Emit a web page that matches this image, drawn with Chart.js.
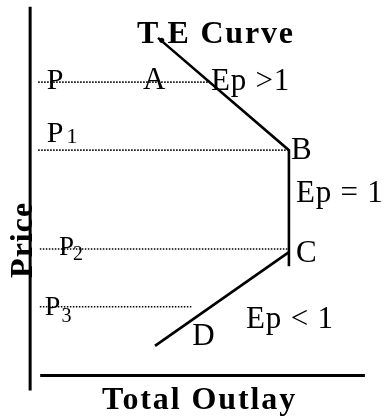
<!DOCTYPE html>
<html>
<head>
<meta charset="utf-8">
<script src="https://cdn.jsdelivr.net/npm/chart.js@4"></script>
<style>
  html, body { margin: 0; padding: 0; background: #fff; }
  canvas { display: block; }
</style>
</head>
<body>
<canvas id="chart" width="385" height="419"></canvas>
<script>
// T.E (total expenditure) curve, outlay on x, price on y
var curveUpperOutlay = [38.2, 77.3, 77.3];
var curveUpperPrice = [100.7, 67.2, 32.6];
var curveLowerOutlay = [77.3, 37.3];
var curveLowerPrice = [36.8, 8.8];

// price levels and how far their dotted guides run
var priceNames = ['P', 'P1', 'P2', 'P3'];
var priceLevels = [87.5, 67.2, 37.7, 20.5];
var guideStart = [2.4, 2.4, 2.9, 2.9];
var guideEnd = [53.6, 77.3, 77.3, 48.6];

// axis extents
var priceAxisRange = [110, -4.5];
var outlayAxisRange = [3, 100];

// text: [text, outlay, price]
var titleText = ['T.E Curve', 31.9, 99.2];
var xTitle = ['Total Outlay', 21.5, -10.0];
var yTitle = ['Price', 0.6, 29.1];
var pointNames = [['A', 33.7, 85.4], ['B', 77.9, 64.6], ['C', 79.4, 33.8], ['D', 48.4, 9.1]];
var elasticity = [['Ep >1', 54.0, 85.2], ['Ep = 1', 79.4, 51.7], ['Ep < 1', 64.5, 14.2]];
// price labels: main letter position, subscript position
var priceLabelPos = [
    [5.0, 85.4, null, null],
    [5.0, 69.6, 10.9, 69.4],
    [8.6, 35.9, 12.8, 34.4],
    [4.4, 18.0, 9.4, 15.9]
];
var priceLabelSize = [30, 30, 27, 28];
var subSize = [0, 22, 20, 20];

var SERIF = "'Liberation Serif', 'Times New Roman', serif";

function xy(xs, ys) {
    return xs.map(function (x, i) { return { x: x, y: ys[i] }; });
}

var datasets = [
    { data: xy([0, 0], priceAxisRange), borderWidth: 3 },
    { data: xy(outlayAxisRange, [0, 0]), borderWidth: 3 },
    { data: xy(curveUpperOutlay, curveUpperPrice), borderWidth: 2.6 },
    { data: xy(curveLowerOutlay, curveLowerPrice), borderWidth: 2.6 }
];
priceLevels.forEach(function (p, i) {
    datasets.push({
        data: xy([guideStart[i], guideEnd[i]], [p, p]),
        borderWidth: 1.6,
        borderDash: [1.5, 1.5]
    });
});
datasets.forEach(function (d) {
    d.showLine = true;
    d.borderColor = '#000';
    d.pointRadius = 0;
    d.fill = false;
});

function drawText(ctx, text, px, py, size, bold, spacing) {
    ctx.font = (bold ? 'bold ' : '') + size + 'px ' + SERIF;
    if ('letterSpacing' in ctx) {
        ctx.letterSpacing = (spacing || 0) + 'px';
        ctx.fillText(text, px, py);
        ctx.letterSpacing = '0px';
    } else {
        var cx = px;
        for (var i = 0; i < text.length; i++) {
            ctx.fillText(text[i], cx, py);
            cx += ctx.measureText(text[i]).width + (spacing || 0);
        }
    }
}

var labelPlugin = {
    id: 'labels',
    afterDraw: function (chart) {
        var ctx = chart.ctx;
        var sx = chart.scales.x, sy = chart.scales.y;
        function X(v) { return sx.getPixelForValue(v); }
        function Y(v) { return sy.getPixelForValue(v); }
        ctx.save();
        ctx.fillStyle = '#000';
        ctx.textAlign = 'left';
        ctx.textBaseline = 'alphabetic';

        drawText(ctx, titleText[0], X(titleText[1]), Y(titleText[2]), 32, true, 1.8);
        drawText(ctx, xTitle[0], X(xTitle[1]), Y(xTitle[2]), 32, true, 1.9);

        ctx.save();
        ctx.translate(X(yTitle[1]), Y(yTitle[2]));
        ctx.rotate(-Math.PI / 2);
        drawText(ctx, yTitle[0], 0, 0, 32, true, 1);
        ctx.restore();

        pointNames.forEach(function (l) { drawText(ctx, l[0], X(l[1]), Y(l[2]), 31, false, 0); });
        elasticity.forEach(function (l) { drawText(ctx, l[0], X(l[1]), Y(l[2]), 31, false, 0.8); });

        priceNames.forEach(function (name, i) {
            var pos = priceLabelPos[i];
            drawText(ctx, name[0], X(pos[0]), Y(pos[1]), priceLabelSize[i], false, 0);
            if (name.length > 1) {
                drawText(ctx, name.slice(1), X(pos[2]), Y(pos[3]), subSize[i], false, 0);
            }
        });
        ctx.restore();
    }
};

new Chart(document.getElementById('chart'), {
    type: 'scatter',
    data: { datasets: datasets },
    options: {
        responsive: false,
        animation: false,
        devicePixelRatio: 1,
        layout: { padding: 0 },
        plugins: { legend: { display: false }, tooltip: { enabled: false } },
        scales: {
            x: { type: 'linear', min: -9, max: 106, display: false },
            y: { type: 'linear', min: -13, max: 112, display: false }
        }
    },
    plugins: [labelPlugin]
});
</script>
</body>
</html>
